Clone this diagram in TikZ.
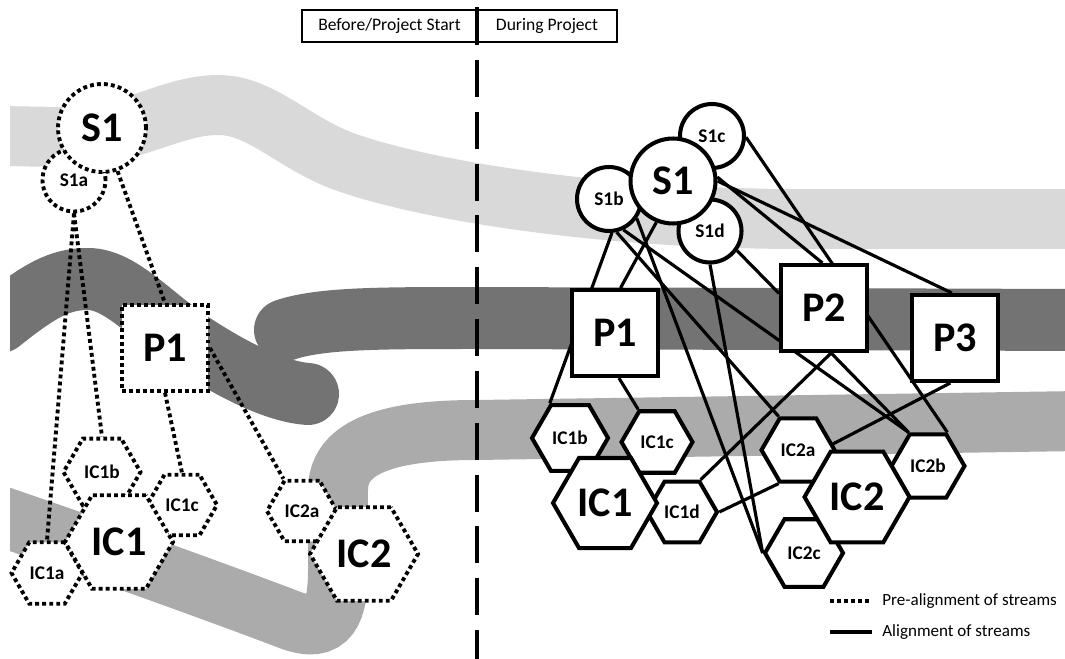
\documentclass[tikz,border=0pt]{standalone}
\usepackage{fontspec}
\setmainfont{Carlito}
\usetikzlibrary{shapes.geometric}

\definecolor{lightband}{gray}{0.85}
\definecolor{darkband}{gray}{0.45}
\definecolor{midband}{gray}{0.67}

\pgfdeclarelayer{bands}
\pgfdeclarelayer{edges}
\pgfsetlayers{bands,edges,main}

\begin{document}
\begin{tikzpicture}[x=0.02cm, y=-0.02cm,
        band/.style={line width=1.2cm},
        pre/.style={line width=2.2pt, dash pattern=on 2.2pt off 1.8pt},
        aligned/.style={line width=1.8pt},
        solidnode/.style={draw, line width=2.3pt},
        circ/.style={circle, fill=white, inner sep=0pt},
        sq/.style={rectangle, fill=white, minimum size=1.72cm, inner sep=0pt},
        hex/.style={regular polygon, regular polygon sides=6, fill=white, inner sep=0pt},
        big/.style={font=\fontsize{24}{24}\selectfont\bfseries},
        small/.style={font=\fontsize{11}{12}\selectfont\bfseries},
        headbox/.style={draw, line width=0.9pt, minimum height=0.64cm, inner sep=0pt, font=\fontsize{10}{11}\selectfont},
        legend/.style={anchor=west, inner sep=0pt, font=\fontsize{9.7}{11}\selectfont},
        divide/.style={line width=2.8pt, dash pattern=on 21pt off 8.5pt}]
        \useasboundingbox (0,0) rectangle (1065,659);

        \begin{pgfonlayer}{bands}
        \begin{scope}
        \clip (10,0) rectangle (1065,659);
        \draw[band, lightband] (0,136) -- (60,137) .. controls (130,138) and (170,105) .. (218,105)
            .. controls (260,105) and (290,140) .. (340,160) .. controls (420,190) and (600,219) .. (800,219) -- (1080,219);
        \draw[band, darkband, line width=1.24cm, line cap=round] (0,322) .. controls (40,290) and (60,279) .. (88,279)
            .. controls (120,279) and (150,315) .. (190,342) .. controls (240,375) and (280,392) .. (308,394);
        \draw[band, darkband, line width=1.24cm, line cap=round] (285,330) .. controls (320,318) and (380,318) .. (476,318) -- (1080,320);
        \draw[band, midband] (0,516) .. controls (100,550) and (230,597) .. (290,620)
            .. controls (330,635) and (338,610) .. (338,570) -- (338,490)
            .. controls (338,450) and (380,430) .. (476,430) -- (1080,421);
        \end{scope}
        \end{pgfonlayer}

        \node[headbox, minimum width=3.5cm] (before) at (389.5,26) {Before/Project Start};
        \node[headbox, minimum width=2.8cm] (during) at (547,26) {During Project};
        \coordinate (divtop) at (477,7);
        \coordinate (divbot) at (477,45);
        \coordinate (dashtop) at (477,60);
        \coordinate (dashbot) at (477,659);
        \draw[line width=2.8pt] (divtop) -- (divbot);
        \draw[divide] (dashtop) -- (dashbot);

        \node[circ, pre, draw, minimum size=1.26cm, small] (lS1a) at (74,180) {S1a};
        \node[circ, pre, draw, minimum size=1.76cm, big] (lS1) at (102,128) {S1};
        \node[sq, pre, draw, big] (lP1) at (165,348) {P1};
        \node[hex, pre, draw, minimum size=1.54cm, small] (lIC1b) at (102,472) {IC1b};
        \node[hex, pre, draw, minimum size=1.40cm, small] (lIC1c) at (182,505) {IC1c};
        \node[hex, pre, draw, minimum size=1.42cm, small] (lIC1a) at (47,573) {IC1a};
        \node[hex, pre, draw, minimum size=2.16cm, big] (lIC1) at (119,542) {IC1};
        \node[hex, pre, draw, minimum size=1.40cm, small] (lIC2a) at (302,511) {IC2a};
        \node[hex, pre, draw, minimum size=2.16cm, big] (lIC2) at (364,554) {IC2};

        \node[circ, solidnode, minimum size=1.28cm, small] (S1c) at (712,136) {S1c};
        \node[circ, solidnode, minimum size=1.28cm, small] (S1b) at (609,199) {S1b};
        \node[circ, solidnode, minimum size=1.26cm, small] (S1d) at (710,231) {S1d};
        \node[circ, solidnode, minimum size=1.70cm, big] (S1) at (673,181) {S1};
        \node[sq, solidnode, big] (P1) at (615,333) {P1};
        \node[sq, solidnode, big] (P2) at (824,308) {P2};
        \node[sq, solidnode, big] (P3) at (955,338) {P3};
        \node[hex, solidnode, minimum size=1.52cm, small] (IC1b) at (570,438) {IC1b};
        \node[hex, solidnode, minimum size=1.42cm, small] (IC1c) at (657,442) {IC1c};
        \node[hex, solidnode, minimum size=1.40cm, small] (IC1d) at (682,512) {IC1d};
        \node[hex, solidnode, minimum size=2.08cm, big] (IC1) at (605,503) {IC1};
        \node[hex, solidnode, minimum size=1.46cm, small] (IC2a) at (798,450) {IC2a};
        \node[hex, solidnode, minimum size=1.46cm, small] (IC2b) at (928,466) {IC2b};
        \node[hex, solidnode, minimum size=1.56cm, small] (IC2c) at (804,553) {IC2c};
        \node[hex, solidnode, minimum size=2.10cm, big] (IC2) at (857,497) {IC2};

        \begin{pgfonlayer}{edges}
        \draw[pre] (lS1a.south) -- (lIC1a.north);
        \draw[pre] (lS1a.south) -- (lIC1b.north);
        \draw[pre] (lS1) -- (lP1.north);
        \draw[pre] (lP1.south) -- (lIC1c.north);
        \draw[pre] (lP1.east) -- (lIC2a.120);

        \draw[aligned] (S1b.275) -- (IC1b.120);
        \draw[aligned] (S1.248) -- (P1.83);
        \draw[aligned] (P1.275) -- (IC1c.120);
        \draw[aligned] (S1b.325) -- (IC2c.180);
        \draw[aligned] (S1b.283) -- (IC2a.120);
        \draw[aligned] (S1b.295) -- (IC2b.120);
        \draw[aligned] (S1d.270) -- (IC2c.180);
        \draw[aligned] (S1d.324) -- (P2.162);
        \draw[aligned] (S1.5) -- (P2.92);
        \draw[aligned] (S1.0) -- (P3.94);
        \draw[aligned] (S1c.358) -- (IC2b.60);
        \draw[aligned] (P2.279) -- (IC2b.120);
        \draw[aligned] (P2.279) -- (IC1d.60);
        \draw[aligned] (P3.264) -- (IC2a.10);
        \draw[aligned] (IC1d.0) -- (IC2a.240);
        \end{pgfonlayer}

        \node[legend] (lgpre) at (882,601) {Pre-alignment of streams};
        \node[legend] (lgal) at (882,632) {Alignment of streams};
        \coordinate (lgpreA) at (830,601);
        \coordinate (lgpreB) at (872,601);
        \coordinate (lgalA) at (830,632);
        \coordinate (lgalB) at (872,632);
        \draw[pre] (lgpreA) -- (lgpreB);
        \draw[line width=2.3pt] (lgalA) -- (lgalB);
    \end{tikzpicture}
\end{document}
